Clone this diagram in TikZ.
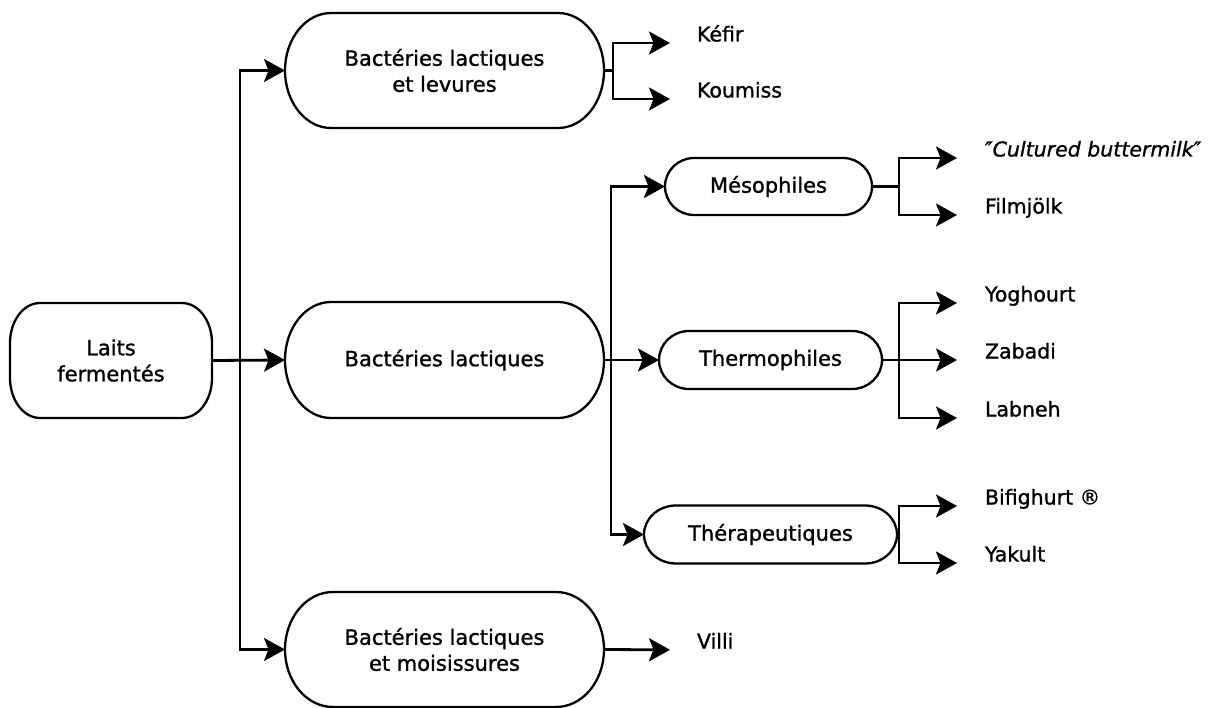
\documentclass[tikz,border=0pt]{standalone}
\usepackage{fontspec}
\setmainfont{DejaVu Sans}[FakeBold=1.2]
\usetikzlibrary{arrows.meta,calc}
\newcommand\pillshape[3]{%
  \draw[boxline] ([xshift=#2]#1.north west) -- ([xshift=-#2]#1.north east)
    arc[start angle=90,end angle=0,x radius=#2,y radius=#3]
    -- ([yshift=#3]#1.south east)
    arc[start angle=0,end angle=-90,x radius=#2,y radius=#3]
    -- ([xshift=#2]#1.south west)
    arc[start angle=270,end angle=180,x radius=#2,y radius=#3]
    -- ([yshift=-#3]#1.north west)
    arc[start angle=180,end angle=90,x radius=#2,y radius=#3] -- cycle;}
\tikzset{
  boxline/.style={line width=2.3pt},
  boxnode/.style={draw=none,outer sep=0pt,inner sep=0pt,align=center,
    font=\fontsize{21}{26}\selectfont},
  leaf/.style={anchor=west,inner sep=0pt,outer sep=0pt,text height=15pt,text depth=4pt,
    font=\fontsize{20.5}{24}\selectfont},
  conn/.style={line width=2.8pt},
  arr/.style={conn,-{Stealth[length=21pt,width=23pt,inset=4.5pt]}},
}
\begin{document}
\begin{tikzpicture}[x=1pt,y=-1pt]
\useasboundingbox (0,0) rectangle (1214,708);
% boxes
\node[boxnode,minimum width=202pt,minimum height=115pt] (laits) at (111,360.5) {Laits\\fermentés};
\node[boxnode,minimum width=319pt,minimum height=115pt] (blev) at (444.5,70.5) {Bactéries lactiques\\et levures};
\node[boxnode,minimum width=319pt,minimum height=116pt] (blac) at (444.5,360) {Bactéries lactiques};
\node[boxnode,minimum width=319pt,minimum height=115pt] (bmoi) at (444.5,649.5) {Bactéries lactiques\\et moisissures};
\node[boxnode,minimum width=207pt,minimum height=57pt] (meso) at (768.5,186.5) {Mésophiles};
\node[boxnode,minimum width=223pt,minimum height=58pt] (therm) at (770.5,360) {Thermophiles};
\node[boxnode,minimum width=253pt,minimum height=58pt] (thera) at (770.5,534.5) {Thérapeutiques};
\pillshape{laits}{30pt}{40pt}
\pillshape{blev}{46pt}{57.5pt}
\pillshape{blac}{46pt}{58pt}
\pillshape{bmoi}{48pt}{57.5pt}
\pillshape{meso}{29pt}{28.5pt}
\pillshape{therm}{30pt}{29pt}
\pillshape{thera}{32pt}{29pt}
% leaves
\node[leaf] (kefir) at (697,36) {Kéfir};
\node[leaf] (koum) at (697,92) {Koumiss};
\node[leaf] (cult) at (985,151) {\itshape ″Cultured buttermilk″};
\node[leaf] (film) at (985,208) {Filmjölk};
\node[leaf] (yog) at (985,296) {Yoghourt};
\node[leaf] (zab) at (985,353) {Zabadi};
\node[leaf] (lab) at (985,411) {Labneh};
\node[leaf] (bif) at (985,499) {Bifighurt ®};
\node[leaf] (yak) at (985,556) {Yakult};
\node[leaf] (villi) at (697,643) {Villi};
% junctions
\coordinate (t) at (240,360.5);
\coordinate (s) at (611,360);
\coordinate (j1) at (613,70.5);
\coordinate (j2) at (899,186.5);
\coordinate (j3) at (899,360);
\coordinate (j4) at (899,534.5);
% connectors
\draw[arr] (laits.east) -- (blac.west);
\draw[arr] (t) |- (blev.west);
\draw[arr] (t) |- (bmoi.west);
\draw[conn] (blev.east) -- (j1);
\draw[arr,shorten >=27pt] (j1) |- ([yshift=-7pt]kefir.west);
\draw[arr,shorten >=27pt] (j1) |- ([yshift=-7pt]koum.west);
\draw[arr] (blac.east) -- (therm.west);
\draw[arr] (s) |- (meso.west);
\draw[arr] (s) |- (thera.west);
\draw[conn] (meso.east) -- (j2);
\draw[arr,shorten >=28pt] (j2) |- ([yshift=-7pt]cult.west);
\draw[arr,shorten >=28pt] (j2) |- ([yshift=-7pt]film.west);
\draw[conn] (therm.east) -- (j3);
\draw[arr,shorten >=28pt] (j3) |- ([yshift=-7pt]yog.west);
\draw[arr,shorten >=28pt] (j3) -- ([yshift=-7pt]zab.west);
\draw[arr,shorten >=28pt] (j3) |- ([yshift=-7pt]lab.west);
\draw[conn] (thera.east) -- (j4);
\draw[arr,shorten >=28pt] (j4) |- ([yshift=-7pt]bif.west);
\draw[arr,shorten >=28pt] (j4) |- ([yshift=-7pt]yak.west);
\draw[arr,shorten >=27pt] (bmoi.east) -- ([yshift=-7pt]villi.west);
\end{tikzpicture}
\end{document}
